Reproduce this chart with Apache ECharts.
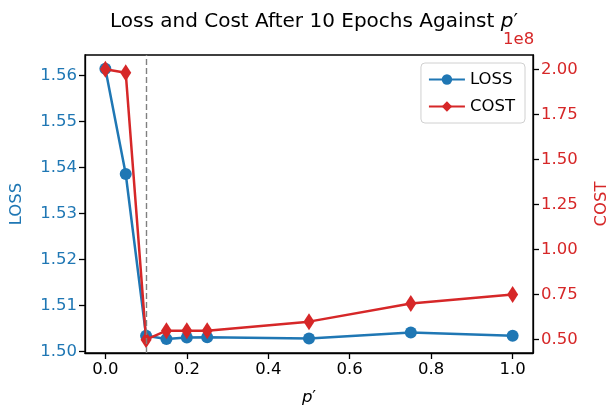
<!DOCTYPE html>
<html>
<head>
<meta charset="utf-8">
<script src="https://cdn.jsdelivr.net/npm/echarts@6/dist/echarts.min.js"></script>
<style>
  html, body { margin: 0; padding: 0; background: #fff; }
  #main { width: 608px; height: 410px; }
</style>
</head>
<body>
<div id="main"></div>
<script>
// p' values
var pValues = [0, 0.05, 0.1, 0.15, 0.2, 0.25, 0.5, 0.75, 1.0];
// loss after 10 epochs
var lossValues = [1.5615, 1.5386, 1.5034, 1.5027, 1.5030, 1.5031, 1.5028, 1.5041, 1.5034];
// cost (raw, axis shows it with a 1e8 offset)
var costValues = [2.00e8, 1.98e8, 0.50e8, 0.55e8, 0.55e8, 0.55e8, 0.60e8, 0.70e8, 0.75e8];
var xTicks = [0, 0.2, 0.4, 0.6, 0.8, 1.0];
var lossTicks = [1.50, 1.51, 1.52, 1.53, 1.54, 1.55, 1.56];
var costTicks = [0.5e8, 0.75e8, 1.0e8, 1.25e8, 1.5e8, 1.75e8, 2.0e8];
var cutoff = 0.1;

var blue = '#1f77b4', red = '#d62728';
var font = 'DejaVu Sans';
var fs = 16.5;

var myChart = echarts.init(document.getElementById('main'));

var lossData = [], costData = [];
for (var i = 0; i < pValues.length; i++) {
    lossData.push([pValues[i], lossValues[i]]);
    costData.push([pValues[i], costValues[i]]);
}

myChart.setOption({
    animation: false,
    textStyle: { fontFamily: font },
    title: {
        text: 'Loss and Cost After 10 Epochs Against {i|p}{s|′}',
        left: 309,
        top: 7,
        textAlign: 'center',
        textStyle: {
            fontFamily: font, fontSize: 20, fontWeight: 'normal', color: '#000',
            rich: {
                i: { fontFamily: font, fontSize: 20, fontStyle: 'italic', color: '#000' },
                s: { fontFamily: font, fontSize: 20, color: '#000' }
            }
        }
    },
    grid: {
        left: 85, right: 75, top: 55, bottom: 57,
        outerBoundsMode: 'none',
        containLabel: false,
        show: true, borderColor: '#000', borderWidth: 1.3, backgroundColor: 'transparent'
    },
    legend: {
        orient: 'vertical',
        right: 83,
        top: 63,
        itemWidth: 36,
        itemHeight: 13,
        itemGap: 10,
        padding: [8, 10, 8, 7],
        backgroundColor: '#fff',
        borderColor: '#d0d0d0',
        borderWidth: 1,
        borderRadius: 4,
        textStyle: { fontFamily: font, fontSize: fs, color: '#000' },
        data: ['LOSS', 'COST']
    },
    xAxis: {
        type: 'value',
        min: -0.05,
        max: 1.05,
        name: '{i|p}{s|′}',
        nameLocation: 'middle',
        nameGap: 36,
        nameTextStyle: {
            rich: {
                i: { fontFamily: font, fontSize: fs, fontStyle: 'italic', color: '#000' },
                s: { fontFamily: font, fontSize: fs, color: '#000' }
            }
        },
        splitLine: { show: false },
        axisLine: { show: true, onZero: false, lineStyle: { color: '#000', width: 1.3 } },
        axisTick: { show: true, length: 6, customValues: xTicks, lineStyle: { color: '#000', width: 1.3 } },
        axisLabel: {
            customValues: xTicks,
            color: '#000', fontSize: fs, margin: 8,
            formatter: function (v) { return v.toFixed(1); }
        }
    },
    yAxis: [
        {
            type: 'value',
            position: 'left',
            min: 1.49965,
            max: 1.5645,
            name: 'LOSS',
            nameLocation: 'middle',
            nameGap: 60,
            nameRotate: 90,
            nameTextStyle: { color: blue, fontSize: fs, fontFamily: font },
            splitLine: { show: false },
            axisLine: { show: true, onZero: false, lineStyle: { color: '#000', width: 1.3 } },
            axisTick: { show: true, length: 6, customValues: lossTicks, lineStyle: { color: '#000', width: 1.3 } },
            axisLabel: {
                customValues: lossTicks,
                color: blue, fontSize: fs, margin: 8,
                formatter: function (v) { return v.toFixed(2); }
            }
        },
        {
            type: 'value',
            position: 'right',
            min: 0.426e8,
            max: 2.079e8,
            name: 'COST',
            nameLocation: 'middle',
            nameGap: 60,
            nameRotate: 90,
            nameTextStyle: { color: red, fontSize: fs, fontFamily: font },
            splitLine: { show: false },
            axisLine: { show: true, onZero: false, lineStyle: { color: '#000', width: 1.3 } },
            axisTick: { show: true, length: 6, customValues: costTicks, lineStyle: { color: '#000', width: 1.3 } },
            axisLabel: {
                customValues: costTicks,
                color: red, fontSize: fs, margin: 8,
                formatter: function (v) { return (v / 1e8).toFixed(2); }
            }
        }
    ],
    graphic: [
        {
            type: 'text',
            left: 503,
            top: 31,
            style: { text: '1e8', fill: red, font: fs + 'px "DejaVu Sans"' }
        }
    ],
    series: [
        {
            name: 'LOSS',
            type: 'line',
            yAxisIndex: 0,
            data: lossData,
            symbol: 'circle',
            symbolSize: 12,
            color: blue,
            lineStyle: { width: 2.5, color: blue },
            itemStyle: { color: blue },
            z: 3,
            markLine: {
                silent: true,
                symbol: 'none',
                label: { show: false },
                lineStyle: { color: '#808080', type: [6, 3], width: 1.4 },
                data: [{ xAxis: cutoff }]
            }
        },
        {
            name: 'COST',
            type: 'line',
            yAxisIndex: 1,
            data: costData,
            symbol: 'diamond',
            symbolSize: [11, 17],
            color: red,
            lineStyle: { width: 2.5, color: red },
            itemStyle: { color: red },
            z: 4
        }
    ]
});
</script>
</body>
</html>
